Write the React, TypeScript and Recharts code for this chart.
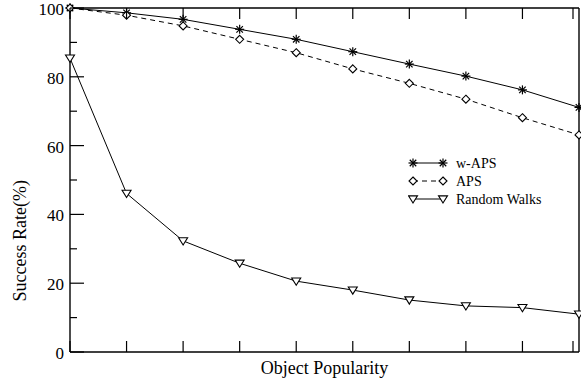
import React from "react";
import { LineChart, Line, XAxis, YAxis } from "recharts";

const popularity = [1, 2, 3, 4, 5, 6, 7, 8, 9, 10];
const wApsRate = [100, 98.6, 96.7, 93.8, 90.9, 87.3, 83.7, 80.2, 76.2, 71.1];
const apsRate = [100, 97.9, 94.8, 90.9, 87.0, 82.3, 78.1, 73.5, 68.1, 63.1];
const randomWalkRate = [85.4, 46.1, 32.3, 25.8, 20.6, 18.0, 15.1, 13.4, 12.9, 11.0];
const yTicks = [0, 10, 20, 30, 40, 50, 60, 70, 80, 90, 100];

const data = popularity.map((p, i) => ({
    p,
    wAps: wApsRate[i],
    aps: apsRate[i],
    rw: randomWalkRate[i],
}));

const FONT = "Liberation Serif, DejaVu Serif, serif";

const Star = ({ cx, cy }: { cx: number, cy: number }) => {
    const r = 4.5;
    const d = r * 0.72;
    return (
        <g stroke="#000" strokeWidth={1.2}>
            <line x1={cx - r} y1={cy} x2={cx + r} y2={cy} />
            <line x1={cx} y1={cy - r} x2={cx} y2={cy + r} />
            <line x1={cx - d} y1={cy - d} x2={cx + d} y2={cy + d} />
            <line x1={cx - d} y1={cy + d} x2={cx + d} y2={cy - d} />
        </g>
    );
};

const Diamond = ({ cx, cy }: { cx: number, cy: number }) => {
    const r = 4;
    return (
        <path d={`M${cx},${cy - r}L${cx + r},${cy}L${cx},${cy + r}L${cx - r},${cy}Z`}
            fill="#fff" stroke="#000" strokeWidth={1.1} />
    );
};

const Triangle = ({ cx, cy }: { cx: number, cy: number }) => {
    const r = 4.5;
    return (
        <path d={`M${cx - r},${cy - r * 0.7}L${cx + r},${cy - r * 0.7}L${cx},${cy + r * 0.9}Z`}
            fill="#fff" stroke="#000" strokeWidth={1.1} />
    );
};

const series = [
    { key: "wAps", name: "w-APS", dash: undefined, Marker: Star },
    { key: "aps", name: "APS", dash: "5 4", Marker: Diamond },
    { key: "rw", name: "Random Walks", dash: undefined, Marker: Triangle },
];

const LegendBox = () => (
    <svg width={150} height={60} style={{ display: "block", fontFamily: FONT }}>
        {series.map((s, i) => {
            const y = 9 + i * 18;
            return (
                <g key={s.key}>
                    <line x1={5} y1={y} x2={35} y2={y} stroke="#000" strokeWidth={1} strokeDasharray={s.dash} />
                    <s.Marker cx={5} cy={y} />
                    <s.Marker cx={35} cy={y} />
                    <text x={48} y={y + 5} style={{ fontFamily: FONT, fontSize: 14 }} fill="#000">{s.name}</text>
                </g>
            );
        })}
    </svg>
);

const BottomTick = (props: any) => {
    const { x, y } = props;
    return <line x1={x} y1={y} x2={x} y2={y - 11} stroke="#000" strokeWidth={1.2} />;
};

const TopTick = (props: any) => {
    const { x, y } = props;
    return <line x1={x} y1={y} x2={x} y2={y + 11} stroke="#000" strokeWidth={1.2} />;
};

const LeftTick = (props: any) => {
    const { x, y, payload } = props;
    const major = payload.value % 20 === 0;
    return (
        <g>
            <line x1={x} y1={y} x2={x + (major ? 14 : 7)} y2={y} stroke="#000" strokeWidth={1.2} />
            {major && (
                <text x={x - 6} y={y + 7} textAnchor="end" style={{ fontFamily: FONT, fontSize: 17 }} fill="#000">
                    {payload.value}
                </text>
            )}
        </g>
    );
};

const RightTick = (props: any) => {
    const { x, y, payload } = props;
    const major = payload.value % 20 === 0;
    return <line x1={x} y1={y} x2={x - (major ? 14 : 7)} y2={y} stroke="#000" strokeWidth={1.2} />;
};

export default function App() {
    return (
        <div style={{ position: "absolute", left: 0, top: 0, width: 581, height: 383, background: "#fff", fontFamily: FONT }}>
            <LineChart width={581} height={383} data={data} style={{ fontFamily: FONT }}
                margin={{ top: 7, right: 1, bottom: 30, left: 69 }}>
                <XAxis dataKey="p" type="number" domain={[1, 10]} ticks={popularity}
                    height={1} tickSize={0} tickMargin={0} tickLine={false} tick={BottomTick}
                    axisLine={{ stroke: "#000", strokeWidth: 1.4 }}
                    label={{ value: "Object Popularity", position: "bottom", offset: 8, style: { fontFamily: FONT, fontSize: 18 }, fill: "#000" }} />
                <XAxis xAxisId="top" orientation="top" dataKey="p" type="number" domain={[1, 10]} ticks={popularity}
                    height={1} tickSize={0} tickMargin={0} tickLine={false} tick={TopTick}
                    axisLine={{ stroke: "#000", strokeWidth: 1.4 }} />
                <YAxis type="number" domain={[0, 100]} ticks={yTicks} interval={0}
                    width={1} tickSize={0} tickMargin={0} tickLine={false} tick={LeftTick}
                    axisLine={{ stroke: "#000", strokeWidth: 1.4 }}
                    label={{ value: "Success Rate(%)", angle: -90, position: "left", offset: 49, style: { fontFamily: FONT, fontSize: 18 }, fill: "#000" }} />
                <YAxis yAxisId="right" orientation="right" type="number" domain={[0, 100]} ticks={yTicks} interval={0}
                    width={1} tickSize={0} tickMargin={0} tickLine={false} tick={RightTick}
                    axisLine={{ stroke: "#000", strokeWidth: 1.4 }} />
                {series.map((s) => (
                    <Line key={s.key} dataKey={s.key} name={s.name} type="linear"
                        stroke="#000" strokeWidth={1} strokeDasharray={s.dash}
                        dot={(p: any) => <s.Marker key={`${s.key}-${p.index}`} cx={p.cx} cy={p.cy} />}
                        activeDot={false} isAnimationActive={false} />
                ))}
            </LineChart>
            <div style={{ position: "absolute", left: 408, top: 154 }}>
                <LegendBox />
            </div>
        </div>
    );
}
